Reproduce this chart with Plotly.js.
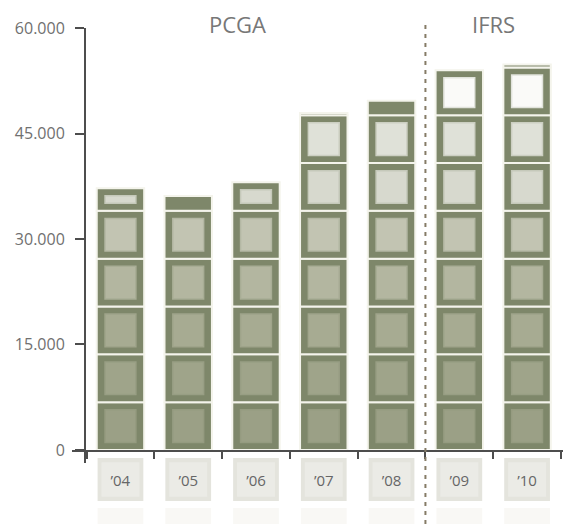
<!DOCTYPE html>
<html><head><meta charset="utf-8">
<script src="https://cdn.plot.ly/plotly-3.0.1.min.js"></script>
<style>html,body{margin:0;padding:0;background:#fff}#chart{width:563px;height:524px}</style>
</head><body><div id="chart"></div>
<script>
// ---- data ----
const years = ['’04','’05','’06','’07','’08','’09','’10'];
const totals = [37230, 36130, 38080, 47900, 49650, 54000, 54800];
const blockSize = 6800;
const yTickValues = [0, 15000, 30000, 45000, 60000];
const yTickLabels = ['0', '15.000', '30.000', '45.000', '60.000'];
const groupNames = ['PCGA', 'IFRS'];
const firstIfrsYear = '’09';

// ---- styles ----
const frameColor = '#7e876a';
const sepColor = '#f4f4ec';
const levelColors = ['#9ba086','#9fa48a','#a7ab92','#b3b6a0','#c2c4b2','#d7d9ce','#dfe1d8','#fafaf8','#fafaf8'];
const innerPad = 1080;
const barW = 0.70, innerW = 0.455;
const FONT = 'Open Sans, sans-serif';

function mix(a, b, t){
  const pa=[1,3,5].map(i=>parseInt(a.substr(i,2),16)), pb=[1,3,5].map(i=>parseInt(b.substr(i,2),16));
  return 'rgb('+pa.map((v,i)=>Math.round(v+(pb[i]-v)*t)).join(',')+')';
}

const traces = [];
const nLevels = Math.ceil(Math.max(...totals)/blockSize);
for (let k=0;k<nLevels;k++){
  const base = years.map(()=>k*blockSize);
  const h = totals.map(v=>{const r=Math.min(blockSize, v-k*blockSize); return r>0?r:null;});
  traces.push({type:'bar', x:years, y:h, base:base, width:barW,
    marker:{color:frameColor, line:{color:sepColor, width:2}}, hoverinfo:'skip'});
}
for (let k=0;k<nLevels;k++){
  const h = totals.map(v=>{const r=Math.min(blockSize, v-k*blockSize)-2*innerPad; return r>0?r:null;});
  const base = years.map(()=>k*blockSize+innerPad);
  traces.push({type:'bar', x:years, y:h, base:base, width:innerW,
    marker:{color:levelColors[k], line:{color:mix(frameColor, levelColors[k], 0.8), width:1.5}}, hoverinfo:'skip'});
}
// label boxes
const ones = years.map(()=>1);
traces.push({type:'bar', x:years, y:ones, base:years.map(()=>0), width:0.675, yaxis:'y2',
  marker:{color:'#e4e4dd', line:{width:0}}, hoverinfo:'skip'});
traces.push({type:'bar', x:years, y:years.map(()=>0.8), base:years.map(()=>0.1), width:0.56, yaxis:'y2',
  marker:{color:'#ebebe6', line:{width:0}}, hoverinfo:'skip',
  text:years, textposition:'inside', insidetextanchor:'middle', constraintext:'none', textangle:0,
  textfont:{family:FONT, size:15, color:'#666666'}});
// faint reflection
traces.push({type:'bar', x:years, y:ones, base:years.map(()=>0), width:0.675, yaxis:'y3',
  marker:{color:'#f9f8f5', line:{width:0}}, hoverinfo:'skip'});

const axisColor = '#4d4d4d';
const divX = years.indexOf(firstIfrsYear) - 0.5;
const layout = {
  width:563, height:524, margin:{l:0,r:0,t:0,b:0},
  paper_bgcolor:'#ffffff', plot_bgcolor:'rgba(0,0,0,0)',
  barmode:'overlay', showlegend:false, font:{family:FONT},
  xaxis:{type:'category', domain:[72/563,1], range:[-0.715,6.53], anchor:'free', position:1-451/524,
    showline:true, linecolor:axisColor, linewidth:2, ticks:'outside', tickson:'boundaries',
    ticklen:7, tickwidth:2, tickcolor:axisColor, showticklabels:false, showgrid:false, zeroline:false, fixedrange:true},
  yaxis:{domain:[1-463/524, 1-28/524], range:[-1850,60000], anchor:'free', position:85/563,
    showline:true, linecolor:axisColor, linewidth:2, ticks:'outside', ticklen:9, tickwidth:2, tickcolor:axisColor,
    tickmode:'array', tickvals:yTickValues, ticktext:yTickLabels, ticklabelstandoff:7,
    tickfont:{family:FONT, size:16, color:'#707070'}, showgrid:false, zeroline:false, fixedrange:true},
  yaxis2:{domain:[1-501/524, 1-458/524], range:[0,1], visible:false, anchor:'x', fixedrange:true},
  yaxis3:{domain:[0, 1-508/524], range:[0,1], visible:false, anchor:'x', fixedrange:true},
  shapes:[{type:'line', xref:'x', yref:'paper', x0:divX, x1:divX, y0:0, y1:1-22/524,
    line:{color:'#857b66', width:2, dash:'4px,5px'}, layer:'above'}],
  annotations:[
    {text:groupNames[0], xref:'x', yref:'paper', x:1.72, y:1-24/524, yanchor:'middle', showarrow:false,
     font:{family:FONT, size:22, color:'#777777'}},
    {text:groupNames[1], xref:'x', yref:'paper', x:5.5, y:1-24/524, yanchor:'middle', showarrow:false,
     font:{family:FONT, size:22, color:'#777777'}}
  ]
};
Plotly.newPlot('chart', traces, layout, {displayModeBar:false, staticPlot:true});
</script></body></html>
